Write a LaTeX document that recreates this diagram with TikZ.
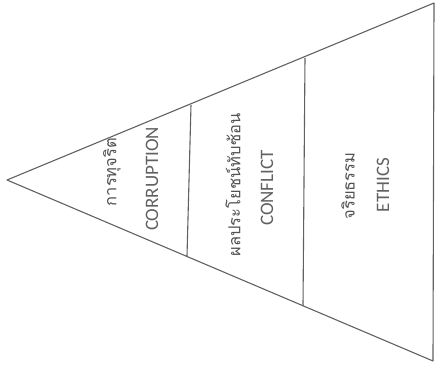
\documentclass[tikz,border=0pt]{standalone}
\usepackage{fontspec}
\setmainfont{Carlito}
\newfontfamily\thaifont[Script=Thai]{Loma}
\begin{document}
\begin{tikzpicture}[x=1pt,y=-1pt,
  edge/.style={draw=black!62, line width=1.1pt, line join=round},
  en/.style={rotate=90, font=\fontsize{19}{22}\selectfont, text=black!62, inner sep=0pt},
  th/.style={rotate=90, font=\thaifont\fontsize{16.5}{19}\selectfont, text=black!68, inner sep=0pt}]
\useasboundingbox (0,0) rectangle (437,369);
\fill[white] (0,0) rectangle (437,369);
% triangle corners
\coordinate (apex) at (7,180);
\coordinate (top) at (434,3);
\coordinate (bot) at (433,361);
% dividers
\coordinate (d1t) at (191,105);
\coordinate (d1b) at (187,256);
\coordinate (d2t) at (305,58);
\coordinate (d2b) at (303,306);
\draw[edge] (apex) -- (top) -- (bot) -- cycle;
\draw[edge] (d1t) -- (d1b);
\draw[edge] (d2t) -- (d2b);
% labels
\node[th] (t1) at (112,172) {การทุจริต};
\node[en] (e1) at (152,179) {CORRUPTION};
\node[th] (t2) at (233,185) {ผลประโยชน์ทับซ้อน};
\node[en] (e2) at (267,188) {CONFLICT};
\node[th] (t3) at (348,186) {จริยธรรม};
\node[en] (e3) at (383,185) {ETHICS};
\end{tikzpicture}
\end{document}
